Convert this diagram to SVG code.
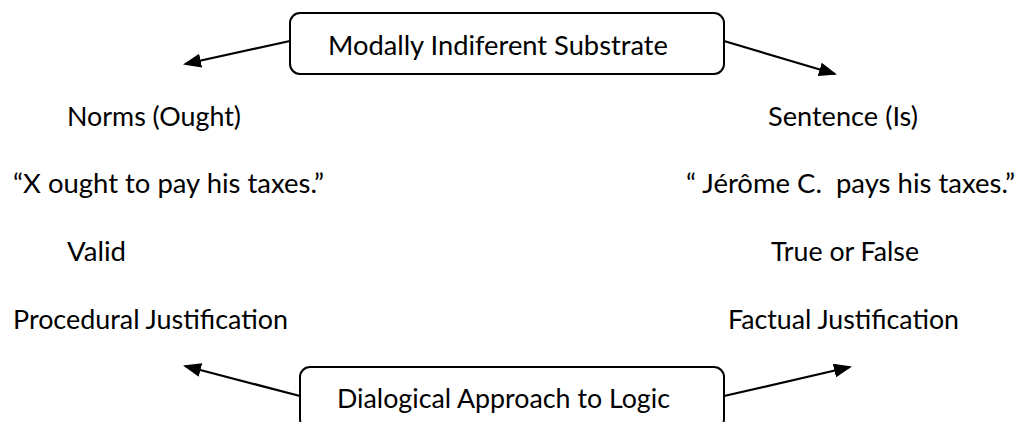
<svg xmlns="http://www.w3.org/2000/svg" width="1022" height="422" viewBox="0 0 1022 422">
<style>
text{font-family:Lato,"Liberation Sans",sans-serif;font-size:26.5px;fill:#000;white-space:pre}
.box{fill:#fff;stroke:#000;stroke-width:2}
.conn line{stroke:#000;stroke-width:2.2;fill:none;marker-end:url(#ah)}
</style>
<defs>
<marker id="ah" markerUnits="userSpaceOnUse" markerWidth="18" markerHeight="14" refX="16" refY="7" orient="auto" viewBox="0 0 18 14">
<path d="M0,0 L18,7 L0,14 z" fill="#000"/>
</marker>
</defs>
<rect width="1022" height="422" fill="#fff"/>
<g id="connectors" class="conn">
<line x1="290" y1="41" x2="185" y2="64"/>
<line x1="724" y1="41" x2="835" y2="74"/>
<line x1="300" y1="396" x2="185" y2="366"/>
<line x1="724" y1="396" x2="850" y2="367"/>
</g>
<g id="substrate">
<rect class="box" x="290" y="13" width="434" height="61" rx="10"/>
<text x="328" y="55" textLength="340" lengthAdjust="spacingAndGlyphs">Modally Indiferent Substrate</text>
</g>
<g id="dialogical">
<rect class="box" x="300" y="367" width="424" height="62" rx="10"/>
<text x="337" y="408" textLength="333" lengthAdjust="spacingAndGlyphs">Dialogical Approach to Logic</text>
</g>
<g id="norms">
<text x="67" y="126" textLength="174" lengthAdjust="spacingAndGlyphs">Norms (Ought)</text>
<text x="13" y="193" textLength="311" lengthAdjust="spacingAndGlyphs">“X ought to pay his taxes.”</text>
<text x="67" y="261" textLength="59" lengthAdjust="spacingAndGlyphs">Valid</text>
<text x="13" y="329" textLength="275" lengthAdjust="spacingAndGlyphs">Procedural Justification</text>
</g>
<g id="sentence">
<text x="768" y="126" textLength="150" lengthAdjust="spacingAndGlyphs">Sentence (Is)</text>
<text x="686" y="193" textLength="329" lengthAdjust="spacingAndGlyphs" xml:space="preserve">“ Jérôme C.  pays his taxes.”</text>
<text x="771" y="261" textLength="148" lengthAdjust="spacingAndGlyphs">True or False</text>
<text x="728" y="329" textLength="231" lengthAdjust="spacingAndGlyphs">Factual Justification</text>
</g>
</svg>
